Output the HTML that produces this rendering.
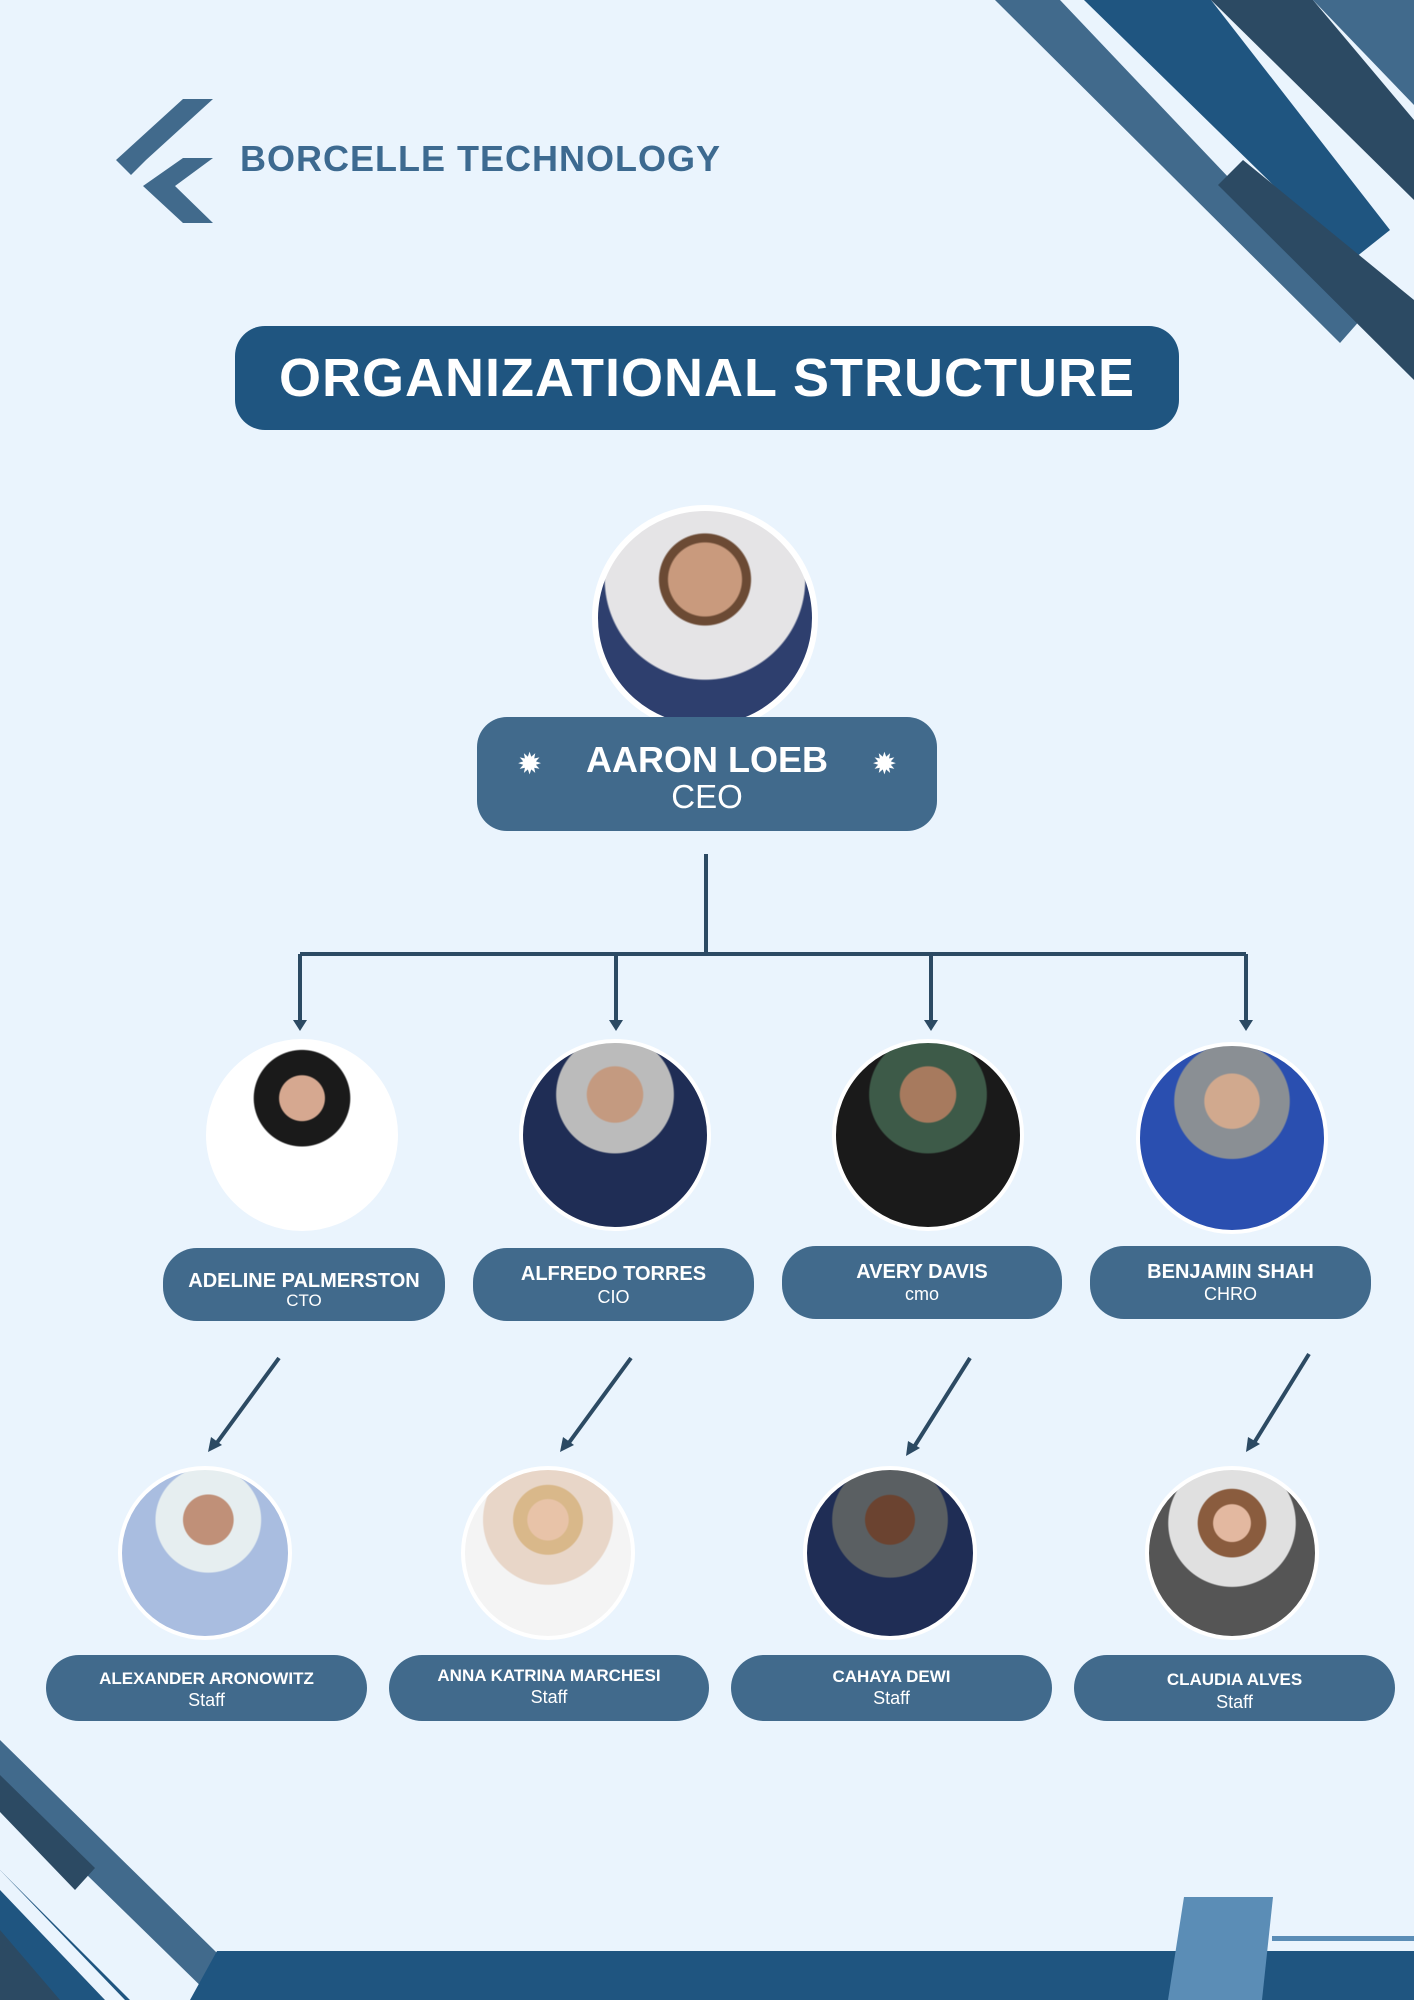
<!DOCTYPE html>
<html><head><meta charset="utf-8"><style>
body{margin:0;width:1414px;height:2000px;background:#eaf4fd;position:relative;overflow:hidden;font-family:"Liberation Sans",sans-serif;}
.abs{position:absolute}
.box{position:absolute;background:#416a8c;color:#fff;text-align:center;border-radius:34px;}
.circ{position:absolute;border-radius:50%;border:4px solid #fff;box-sizing:border-box;overflow:hidden;}
.n{font-weight:bold;}
</style></head><body>
<svg class="abs" style="left:0;top:0" width="1414" height="2000">
<polygon points="995,0 1060,0 1362,318 1340,343" fill="#416a8c"/>
<polygon points="1084,0 1211,0 1390,230 1351,261" fill="#1f5580"/>
<polygon points="1211,0 1313,0 1414,120 1414,200" fill="#2c4a63"/>
<polygon points="1313,0 1414,0 1414,105" fill="#416a8c"/>
<polygon points="1243,160 1218,185 1414,380 1414,300" fill="#2c4a63"/>
<polygon points="0,1740 0,1790 215,2000 265,2000" fill="#416a8c"/>
<polygon points="0,1775 0,1812 75,1890 95,1868" fill="#2c4a63"/>
<polygon points="0,1812 0,2000 130,2000 0,1870" fill="#1f5580"/>
<polygon points="0,1870 0,1890 105,2000 125,2000" fill="#eaf4fd"/>
<polygon points="0,1930 0,2000 60,2000" fill="#2c4a63"/>
<polygon points="217,1951 1414,1951 1414,2000 190,2000" fill="#1f5580"/>
<polygon points="1184,1897 1273,1897 1262,2000 1168,2000" fill="#5b8db6"/>
<rect x="1272" y="1936" width="142" height="5" fill="#5b8db6"/>
<polygon points="116,160 183,99 213,99 146,160 131,175" fill="#416a8c"/>
<polygon points="143,186 183,158 213,158 175,186 213,223 183,223" fill="#416a8c"/>
<g stroke="#2c4a63" stroke-width="4" fill="none">
<line x1="706" y1="854" x2="706" y2="954"/>
<line x1="300" y1="954" x2="1246" y2="954"/>
<line x1="300" y1="954" x2="300" y2="1022"/><line x1="616" y1="954" x2="616" y2="1022"/>
<line x1="931" y1="954" x2="931" y2="1022"/><line x1="1246" y1="954" x2="1246" y2="1022"/>
<line x1="279" y1="1358" x2="216" y2="1444"/><line x1="631" y1="1358" x2="568" y2="1444"/>
<line x1="970" y1="1358" x2="914" y2="1447"/><line x1="1309" y1="1354" x2="1254" y2="1443"/>
</g>
<g fill="#2c4a63">
<polygon points="293,1020 307,1020 300,1031"/><polygon points="609,1020 623,1020 616,1031"/>
<polygon points="924,1020 938,1020 931,1031"/><polygon points="1239,1020 1253,1020 1246,1031"/>
<polygon points="208,1452 211,1437 222,1445"/><polygon points="560,1452 563,1437 574,1445"/>
<polygon points="906,1456 908,1441 920,1448"/><polygon points="1246,1452 1248,1437 1260,1444"/>
</g>
</svg>
<div class="abs" style="left:240px;top:138px;font-size:36px;font-weight:bold;color:#3d6a90;letter-spacing:1px;">BORCELLE TECHNOLOGY</div>
<div class="abs" style="left:235px;top:326px;width:944px;height:104px;background:#1f5580;border-radius:30px;color:#fff;font-size:54px;font-weight:bold;text-align:center;line-height:104px;letter-spacing:1px;">ORGANIZATIONAL STRUCTURE</div>

<div class="circ" style="left:592px;top:505px;width:226px;height:226px;border-width:6px;background:radial-gradient(circle at 50% 32%,#c99a7d 0 20%,#6b4a34 21% 25%,#e5e4e6 26% 55%,#2e3f6e 56%);"></div>
<div class="box" style="left:477px;top:717px;width:460px;height:114px;border-radius:30px;">
<div style="font-size:36px;font-weight:bold;margin-top:24px;line-height:38px;">AARON LOEB</div>
<div style="font-size:33px;line-height:36px;">CEO</div>
<div class="abs" style="left:40px;top:30px;font-size:30px;">✹</div><div class="abs" style="right:40px;top:30px;font-size:30px;">✹</div>
</div>

<div class="circ" style="left:206px;top:1039px;width:192px;height:192px;background:radial-gradient(circle at 50% 30%,#d6a890 0 14%,#1a1a1a 15% 30%,#fff 31%);"></div>
<div class="circ" style="left:519px;top:1039px;width:192px;height:192px;background:radial-gradient(circle at 50% 28%,#c49a80 0 17%,#bbb 18% 36%,#1f2d55 37%);"></div>
<div class="circ" style="left:832px;top:1039px;width:192px;height:192px;background:radial-gradient(circle at 50% 28%,#a77a5e 0 17%,#3d5a48 18% 36%,#1a1a1a 37%);"></div>
<div class="circ" style="left:1136px;top:1042px;width:192px;height:192px;background:radial-gradient(circle at 50% 30%,#d1a98e 0 17%,#8a8f94 18% 36%,#2a4fb0 37%);"></div>
<div class="box" style="left:163px;top:1248px;width:282px;height:73px;"><div class="n" style="font-size:20px;margin-top:22px;line-height:22px;">ADELINE PALMERSTON</div><div style="font-size:17px;line-height:18px;">CTO</div></div>
<div class="box" style="left:473px;top:1248px;width:281px;height:73px;"><div class="n" style="font-size:20px;margin-top:14px;line-height:24px;">ALFREDO TORRES</div><div style="font-size:18px;line-height:22px;">CIO</div></div>
<div class="box" style="left:782px;top:1246px;width:280px;height:73px;"><div class="n" style="font-size:20px;margin-top:14px;line-height:24px;">AVERY DAVIS</div><div style="font-size:18px;line-height:20px;">cmo</div></div>
<div class="box" style="left:1090px;top:1246px;width:281px;height:73px;"><div class="n" style="font-size:20px;margin-top:14px;line-height:24px;">BENJAMIN SHAH</div><div style="font-size:18px;line-height:20px;">CHRO</div></div>

<div class="circ" style="left:118px;top:1466px;width:174px;height:174px;background:radial-gradient(circle at 52% 30%,#c09078 0 17%,#e6eef0 18% 36%,#a9bde0 37%);"></div>
<div class="circ" style="left:461px;top:1466px;width:174px;height:174px;background:radial-gradient(circle at 50% 30%,#e8c3a8 0 14%,#d9b88a 15% 24%,#e8d6c8 25% 45%,#f4f4f4 46%);"></div>
<div class="circ" style="left:803px;top:1466px;width:174px;height:174px;background:radial-gradient(circle at 50% 30%,#6b4330 0 17%,#5a5f62 18% 40%,#1f2d55 41%);"></div>
<div class="circ" style="left:1145px;top:1466px;width:174px;height:174px;background:radial-gradient(circle at 50% 32%,#e3b8a0 0 13%,#8a5c3e 14% 24%,#e0e0e0 25% 45%,#555 46%);"></div>
<div class="box" style="left:46px;top:1655px;width:321px;height:66px;"><div class="n" style="font-size:17px;margin-top:14px;line-height:20px;">ALEXANDER ARONOWITZ</div><div style="font-size:18px;line-height:22px;">Staff</div></div>
<div class="box" style="left:389px;top:1655px;width:320px;height:66px;"><div class="n" style="font-size:17px;margin-top:11px;line-height:20px;">ANNA KATRINA MARCHESI</div><div style="font-size:18px;line-height:22px;">Staff</div></div>
<div class="box" style="left:731px;top:1655px;width:321px;height:66px;"><div class="n" style="font-size:17px;margin-top:11px;line-height:22px;">CAHAYA DEWI</div><div style="font-size:18px;line-height:20px;">Staff</div></div>
<div class="box" style="left:1074px;top:1655px;width:321px;height:66px;"><div class="n" style="font-size:17px;margin-top:14px;line-height:22px;">CLAUDIA ALVES</div><div style="font-size:18px;line-height:22px;">Staff</div></div>
</body></html>
